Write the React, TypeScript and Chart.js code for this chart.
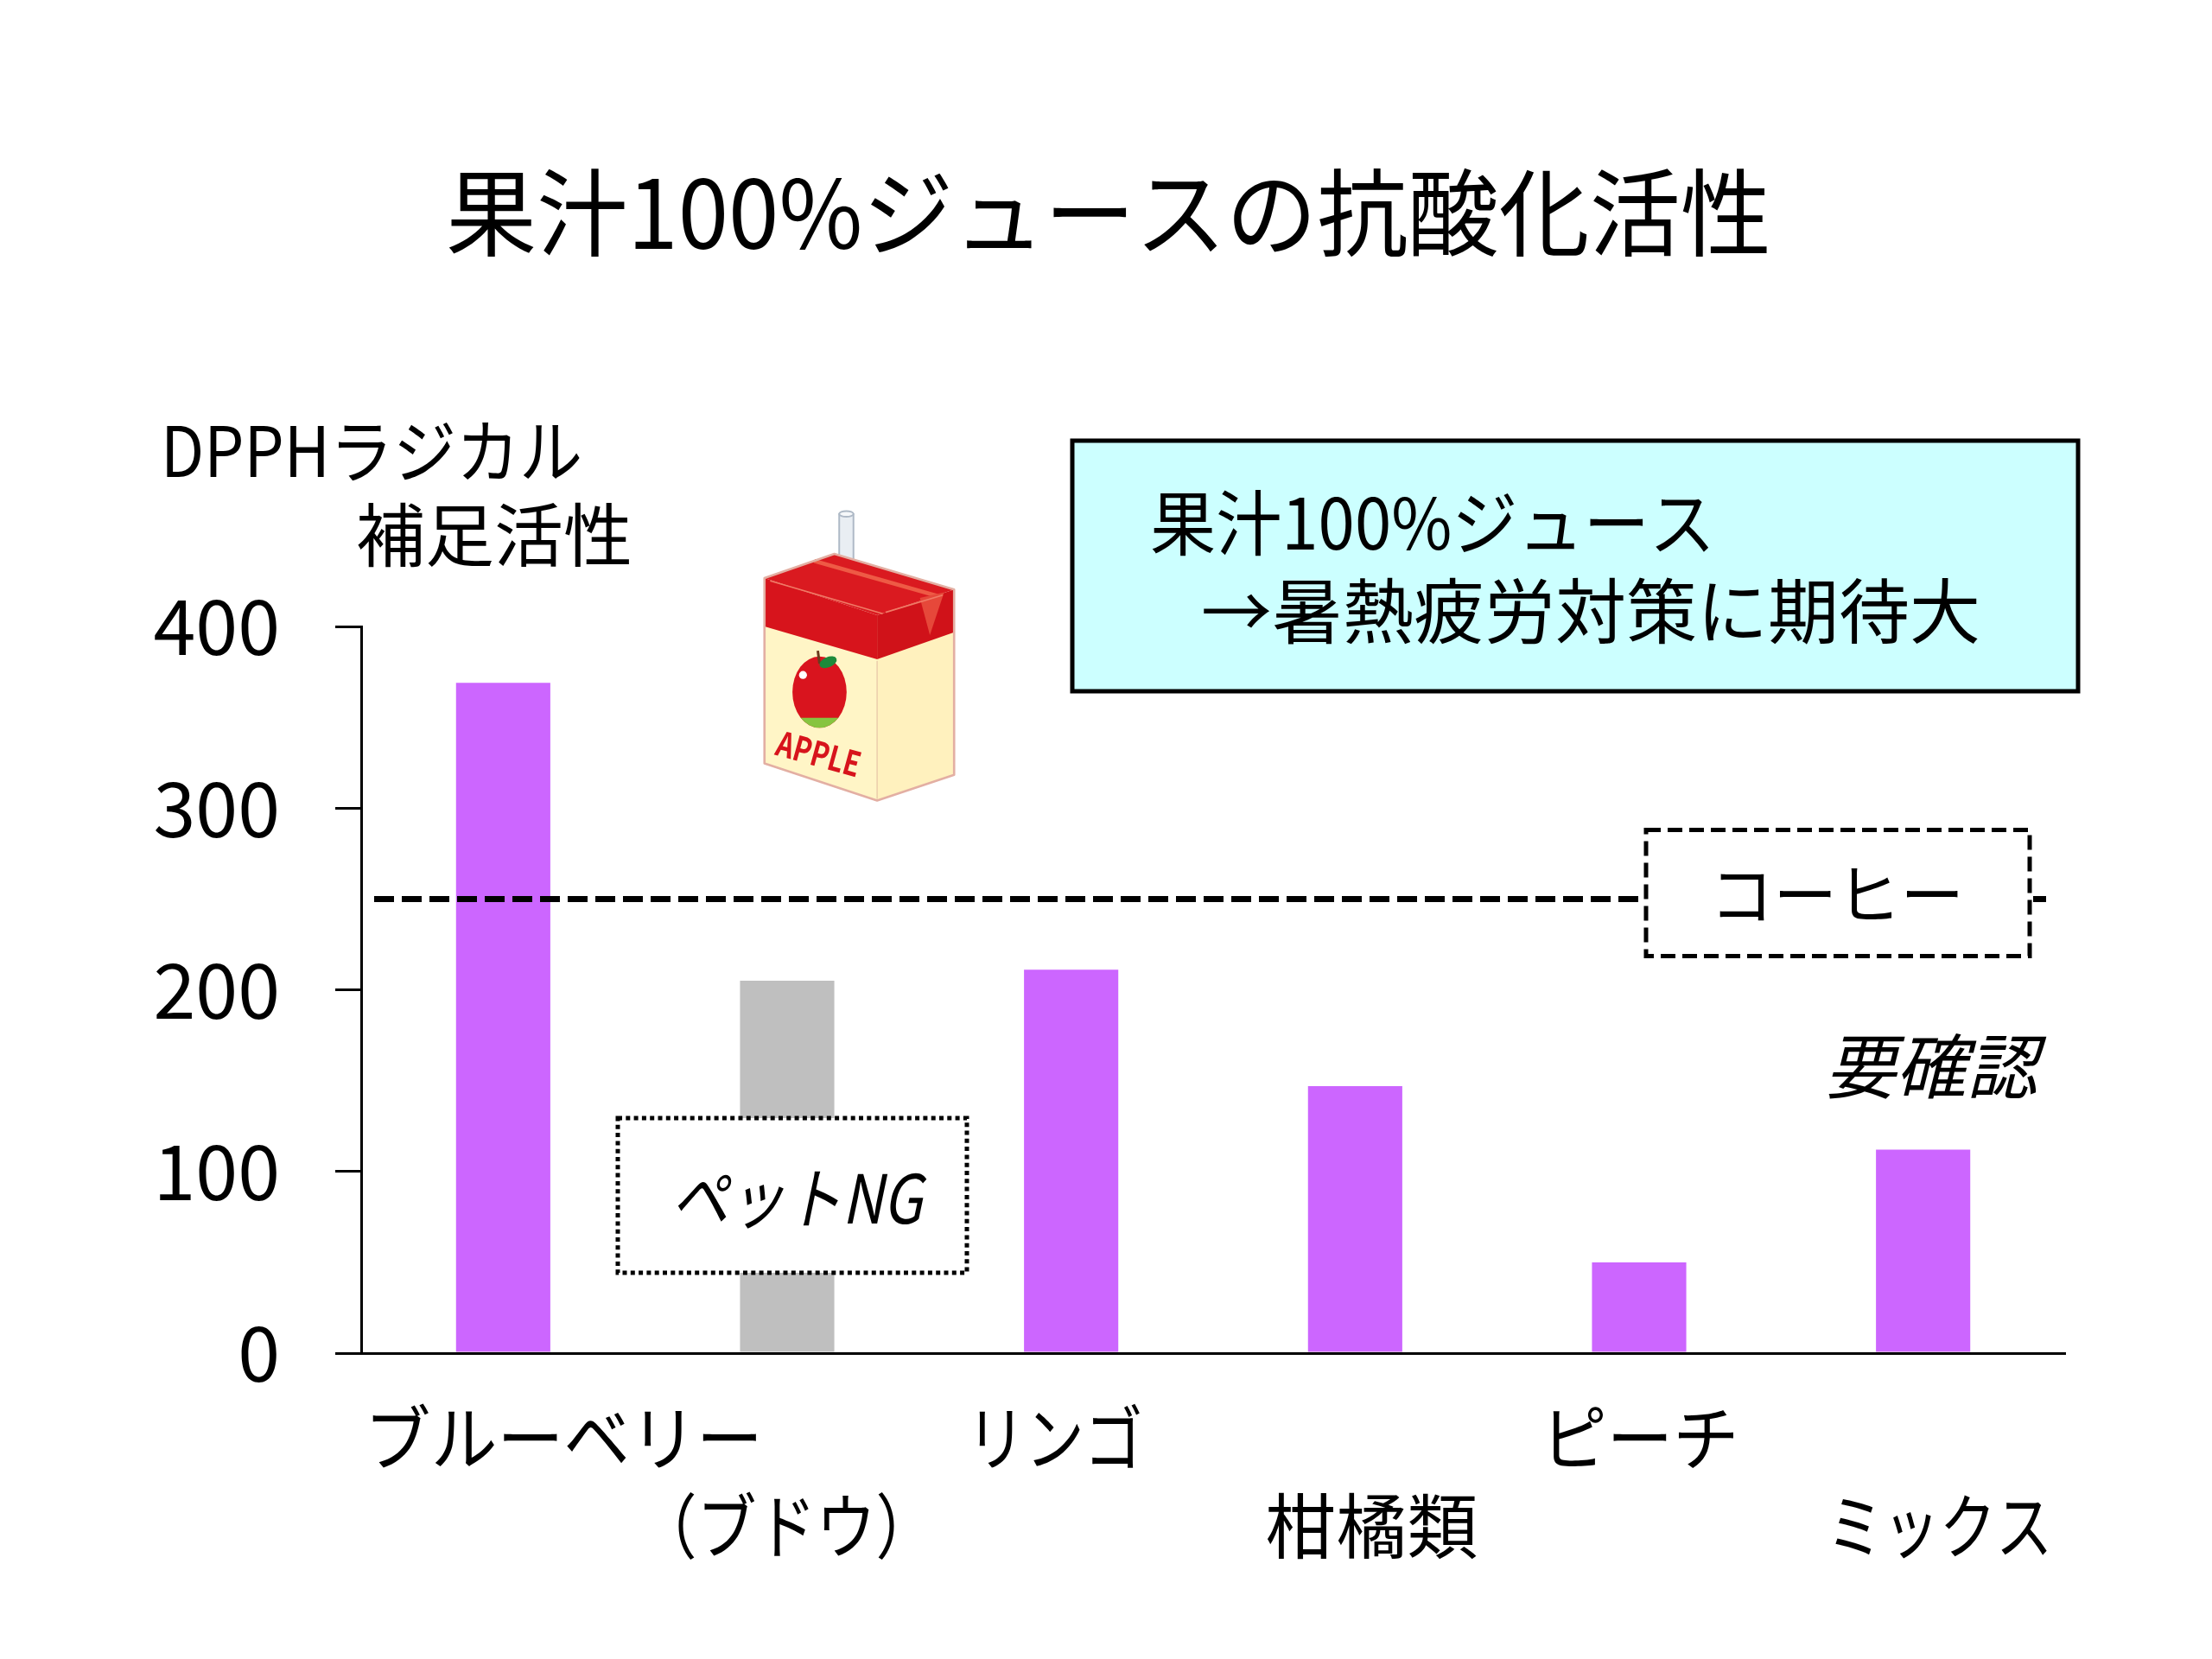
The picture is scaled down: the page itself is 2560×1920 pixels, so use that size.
import React, { useEffect, useRef } from "react";
import { Chart, registerables } from "chart.js";

Chart.register(...registerables);

// ---- data ----
const CATEGORIES = ["ブルーベリー", "（ブドウ）", "リンゴ", "柑橘類", "ピーチ", "ミックス"];
const LABEL_ROWS = [0, 1, 0, 1, 0, 1];
const VALUES = [369, 205, 211, 147, 50, 112];
const BAR_COLORS = ["#CC66FF", "#BFBFBF", "#CC66FF", "#CC66FF", "#CC66FF", "#CC66FF"];
const Y_TICKS = [0, 100, 200, 300, 400];
const COFFEE_VALUE = 250;
const COFFEE_LABEL = "コーヒー";
const TITLE = "果汁100%ジュースの抗酸化活性";
const Y_TITLE = ["DPPHラジカル", "補足活性"];
const NOTE_LINES = ["果汁100%ジュース", "→暑熱疲労対策に期待大"];
const PET_NG = "ペットNG";
const CHECK_NOTE = "要確認";

// ---- layout constants ----
const FONT = "'Noto Sans CJK JP', 'Noto Sans', sans-serif";
const LABEL_DX = [70, -1, -19, 19, 1, 19];
const LABEL_MAXW = [461, 345, 204, 246, 229, 261];
const ROW_Y = [1664, 1766];

function drawJuiceBox(ctx: CanvasRenderingContext2D) {
  ctx.save();
  ctx.translate(860, 570);
  ctx.scale(1 / 3.03, 1 / 3.03);
  ctx.lineJoin = "round";
  const outline = "#E3AFA3";
  const poly = (pts: number[][], fill: string) => {
    ctx.beginPath();
    ctx.moveTo(pts[0][0], pts[0][1]);
    for (let i = 1; i < pts.length; i++) ctx.lineTo(pts[i][0], pts[i][1]);
    ctx.closePath();
    ctx.fillStyle = fill;
    ctx.fill();
  };
  // straw
  ctx.fillStyle = "#E9EEF3";
  ctx.strokeStyle = "#AEB9C6";
  ctx.lineWidth = 6;
  ctx.beginPath();
  ctx.rect(337, 75, 50, 165);
  ctx.fill();
  ctx.stroke();
  ctx.beginPath();
  ctx.ellipse(362, 75, 25, 10, 0, 0, Math.PI * 2);
  ctx.fillStyle = "#F6F8FA";
  ctx.fill();
  ctx.stroke();
  // front face cream
  poly([[75, 300], [470, 430], [470, 1080], [75, 950]], "#FFF5C6");
  // side face cream
  poly([[470, 430], [740, 340], [740, 990], [470, 1080]], "#FFF1BE");
  // front red band
  poly([[75, 300], [470, 430], [470, 585], [75, 470]], "#D7141C");
  // side red band
  poly([[470, 430], [740, 340], [740, 490], [470, 585]], "#D01219");
  // top face
  poly([[75, 300], [320, 215], [740, 340], [470, 430]], "#DA1A20");
  // flap highlight
  ctx.strokeStyle = "#EE5A45";
  ctx.lineWidth = 14;
  ctx.beginPath();
  ctx.moveTo(250, 240);
  ctx.lineTo(690, 365);
  ctx.stroke();
  poly([[620, 370], [705, 350], [655, 500]], "#E6483A");
  ctx.lineWidth = 5;
  ctx.strokeStyle = "#F07A66";
  ctx.beginPath();
  ctx.moveTo(95, 310);
  ctx.lineTo(490, 425);
  ctx.moveTo(500, 420);
  ctx.lineTo(700, 360);
  ctx.stroke();
  // edge line
  ctx.strokeStyle = "#E8C9A8";
  ctx.lineWidth = 4;
  ctx.beginPath();
  ctx.moveTo(470, 590);
  ctx.lineTo(470, 1075);
  ctx.stroke();
  // outline
  ctx.strokeStyle = outline;
  ctx.lineWidth = 8;
  ctx.beginPath();
  ctx.moveTo(75, 300);
  ctx.lineTo(320, 215);
  ctx.lineTo(740, 340);
  ctx.lineTo(740, 990);
  ctx.lineTo(470, 1080);
  ctx.lineTo(75, 950);
  ctx.closePath();
  ctx.stroke();
  // apple
  ctx.save();
  ctx.beginPath();
  ctx.ellipse(268, 700, 95, 125, 0, 0, Math.PI * 2);
  ctx.fillStyle = "#D9141E";
  ctx.fill();
  ctx.clip();
  ctx.fillStyle = "#86C440";
  ctx.fillRect(150, 790, 250, 100);
  ctx.restore();
  ctx.beginPath();
  ctx.arc(210, 640, 14, 0, Math.PI * 2);
  ctx.fillStyle = "#FFFFFF";
  ctx.fill();
  ctx.strokeStyle = "#6B3A1E";
  ctx.lineWidth = 9;
  ctx.beginPath();
  ctx.moveTo(262, 555);
  ctx.lineTo(268, 600);
  ctx.stroke();
  ctx.beginPath();
  ctx.ellipse(298, 595, 32, 18, -0.4, 0, Math.PI * 2);
  ctx.fillStyle = "#1E8A3A";
  ctx.fill();
  // APPLE text
  ctx.save();
  ctx.translate(265, 915);
  ctx.rotate(0.27);
  ctx.fillStyle = "#D7141C";
  ctx.font = `bold 120px ${FONT}`;
  ctx.textAlign = "center";
  ctx.textBaseline = "middle";
  ctx.fillText("APPLE", 0, 0, 300);
  ctx.restore();
  ctx.restore();
}

const annotationPlugin = {
  id: "annotations",
  afterDatasetsDraw(chart: any) {
    const { ctx, scales } = chart;
    const xs = scales.x;
    const ys = scales.y;
    ctx.save();
    // coffee reference line
    const ly = ys.getPixelForValue(COFFEE_VALUE);
    ctx.strokeStyle = "#000";
    ctx.lineWidth = 7;
    ctx.setLineDash([23, 9]);
    ctx.beginPath();
    ctx.moveTo(433, ly);
    ctx.lineTo(2368, ly);
    ctx.stroke();
    // coffee box
    ctx.setLineDash([17, 8]);
    ctx.lineWidth = 5;
    ctx.fillStyle = "#FFFFFF";
    ctx.fillRect(1905, ly - 80, 444, 146);
    ctx.strokeRect(1905, ly - 80, 444, 146);
    ctx.setLineDash([]);
    ctx.fillStyle = "#000";
    ctx.font = `76px ${FONT}`;
    ctx.textAlign = "center";
    ctx.textBaseline = "middle";
    ctx.fillText(COFFEE_LABEL, 2126, ly - 5, 294);

    // pet NG box (dotted)
    ctx.setLineDash([5, 4.3]);
    ctx.lineWidth = 5;
    ctx.fillStyle = "#FFFFFF";
    ctx.fillRect(715, 1294, 404, 179);
    ctx.strokeRect(715, 1294, 404, 179);
    ctx.setLineDash([]);
    ctx.fillStyle = "#000";
    ctx.font = `italic 78px ${FONT}`;
    ctx.fillText(PET_NG, 922, 1386, 290);

    // 要確認
    ctx.font = `italic 82px ${FONT}`;
    ctx.fillText(CHECK_NOTE, 2235, 1234, 256);

    // category labels
    ctx.font = `82px ${FONT}`;
    CATEGORIES.forEach((c, i) => {
      const px = xs.getPixelForValue(i) + LABEL_DX[i];
      ctx.fillText(c, px, ROW_Y[LABEL_ROWS[i]], LABEL_MAXW[i]);
    });
    ctx.restore();
  },
  afterDraw(chart: any) {
    const { ctx } = chart;
    ctx.save();
    ctx.fillStyle = "#000";
    ctx.textBaseline = "middle";
    // title
    ctx.font = `110px ${FONT}`;
    ctx.textAlign = "center";
    ctx.fillText(TITLE, 1283, 246, 1534);
    // y title
    ctx.font = `80px ${FONT}`;
    ctx.textAlign = "left";
    ctx.fillText(Y_TITLE[0], 186, 522, 488);
    ctx.fillText(Y_TITLE[1], 412, 619, 336);
    // note box
    ctx.fillStyle = "#CCFFFF";
    ctx.fillRect(1241, 510, 1164, 290);
    ctx.strokeStyle = "#000";
    ctx.lineWidth = 5;
    ctx.strokeRect(1241, 510, 1164, 290);
    ctx.fillStyle = "#000";
    ctx.font = `82px ${FONT}`;
    ctx.fillText(NOTE_LINES[0], 1331, 605, 654);
    ctx.fillText(NOTE_LINES[1], 1390, 707, 910);
    ctx.restore();
    drawJuiceBox(ctx);
  },
};

export default function App() {
  const ref = useRef<HTMLCanvasElement | null>(null);
  useEffect(() => {
    if (!ref.current) return;
    const chart = new Chart(ref.current, {
      type: "bar",
      data: {
        labels: CATEGORIES,
        datasets: [
          {
            data: VALUES,
            backgroundColor: BAR_COLORS,
            borderWidth: 0,
            barPercentage: 0.332,
            categoryPercentage: 1,
          },
        ],
      },
      options: {
        responsive: false,
        animation: false,
        devicePixelRatio: 1,
        layout: { padding: { top: 725, right: 170, bottom: 0, left: 0 } },
        plugins: {
          legend: { display: false },
          tooltip: { enabled: false },
          title: { display: false },
        },
        scales: {
          x: {
            grid: { display: false },
            border: { display: true, color: "#000", width: 3 },
            ticks: { display: false },
            afterFit: (s: any) => {
              s.height = 1920 - 1566;
            },
          },
          y: {
            min: 0,
            max: 400,
            afterBuildTicks: (s: any) => {
              s.ticks = Y_TICKS.map((v) => ({ value: v }));
            },
            ticks: {
              font: { size: 88, family: FONT },
              color: "#000",
              padding: 64,
            },
            grid: {
              drawOnChartArea: false,
              drawTicks: true,
              tickLength: 30,
              color: "#000",
              lineWidth: 3,
            },
            border: { display: true, color: "#000", width: 3 },
            afterFit: (s: any) => {
              s.width = 418;
            },
          },
        },
      },
      plugins: [annotationPlugin],
    });
    return () => chart.destroy();
  }, []);
  return (
    <div
      style={{
        position: "fixed",
        left: 0,
        top: 0,
        width: 2560,
        height: 1920,
        background: "#FFFFFF",
      }}
    >
      <canvas ref={ref} width={2560} height={1920} style={{ display: "block" }} />
    </div>
  );
}
